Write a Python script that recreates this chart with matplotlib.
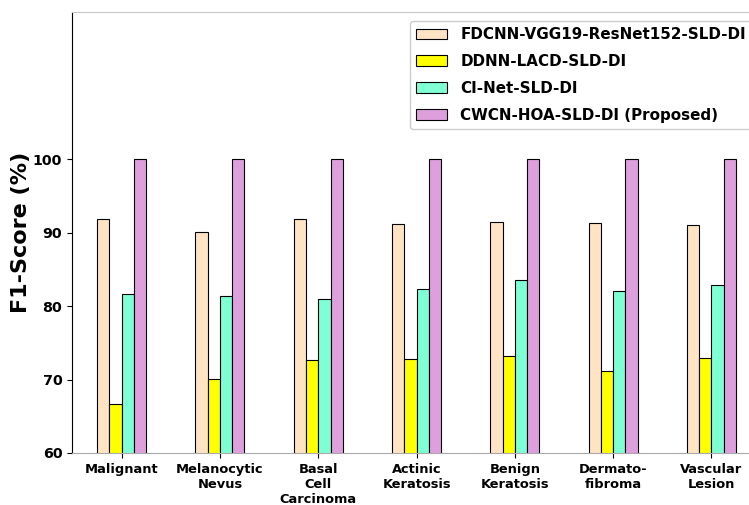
import numpy as np
import matplotlib
matplotlib.use("Agg")
import matplotlib.pyplot as plt

# classes and F1-scores
classes = ['Malignant', 'Melanocytic\nNevus', 'Basal\nCell\nCarcinoma', 'Actinic\nKeratosis',
           'Benign\nKeratosis', 'Dermato-\nfibroma', 'Vascular\nLesion']
fdcnn = [91.9, 90.1, 91.9, 91.2, 91.4, 91.3, 91.0]
ddnn = [66.6, 70.1, 72.7, 72.8, 73.2, 71.1, 72.9]
cinet = [81.6, 81.3, 80.9, 82.3, 83.6, 82.0, 82.9]
cwcn = [100, 100, 100, 100, 100, 100, 100]

names = ['FDCNN-VGG19-ResNet152-SLD-DI', 'DDNN-LACD-SLD-DI', 'CI-Net-SLD-DI',
         'CWCN-HOA-SLD-DI (Proposed)']
colors = ['bisque', 'yellow', 'aquamarine', 'plum']

fig = plt.figure(figsize=(7.49, 5.05), dpi=100)
ax = fig.add_axes([0.0961, 0.103, 0.92, 0.873])

x = np.arange(len(classes))
w = 0.125
for i, (vals, name, c) in enumerate(zip([fdcnn, ddnn, cinet, cwcn], names, colors)):
    ax.bar(x + (i - 1.5) * w, vals, w, color=c, edgecolor='black', linewidth=0.8, label=name)

ax.set_ylim(60, 120)
ax.set_yticks([60, 70, 80, 90, 100])
ax.set_xlim(-0.505, 6.505)
ax.set_xticks(x)
ax.set_xticklabels(classes, fontsize=9.4, fontweight='bold')
for t in ax.get_yticklabels():
    t.set_fontsize(10.3)
    t.set_fontweight('bold')
ax.set_ylabel('F1-Score (%)', fontsize=16, fontweight='bold', labelpad=1)

ax.spines['top'].set_color('#c8c8c8')
ax.spines['right'].set_color('#c8c8c8')
ax.spines['bottom'].set_color('#aaaaaa')

leg = ax.legend(loc='upper right', prop={'weight': 'bold', 'size': 10.9}, framealpha=1,
                labelspacing=0.78, handlelength=2.1, handletextpad=0.85, borderaxespad=0.6)

fig.savefig('out.png', dpi=100)
